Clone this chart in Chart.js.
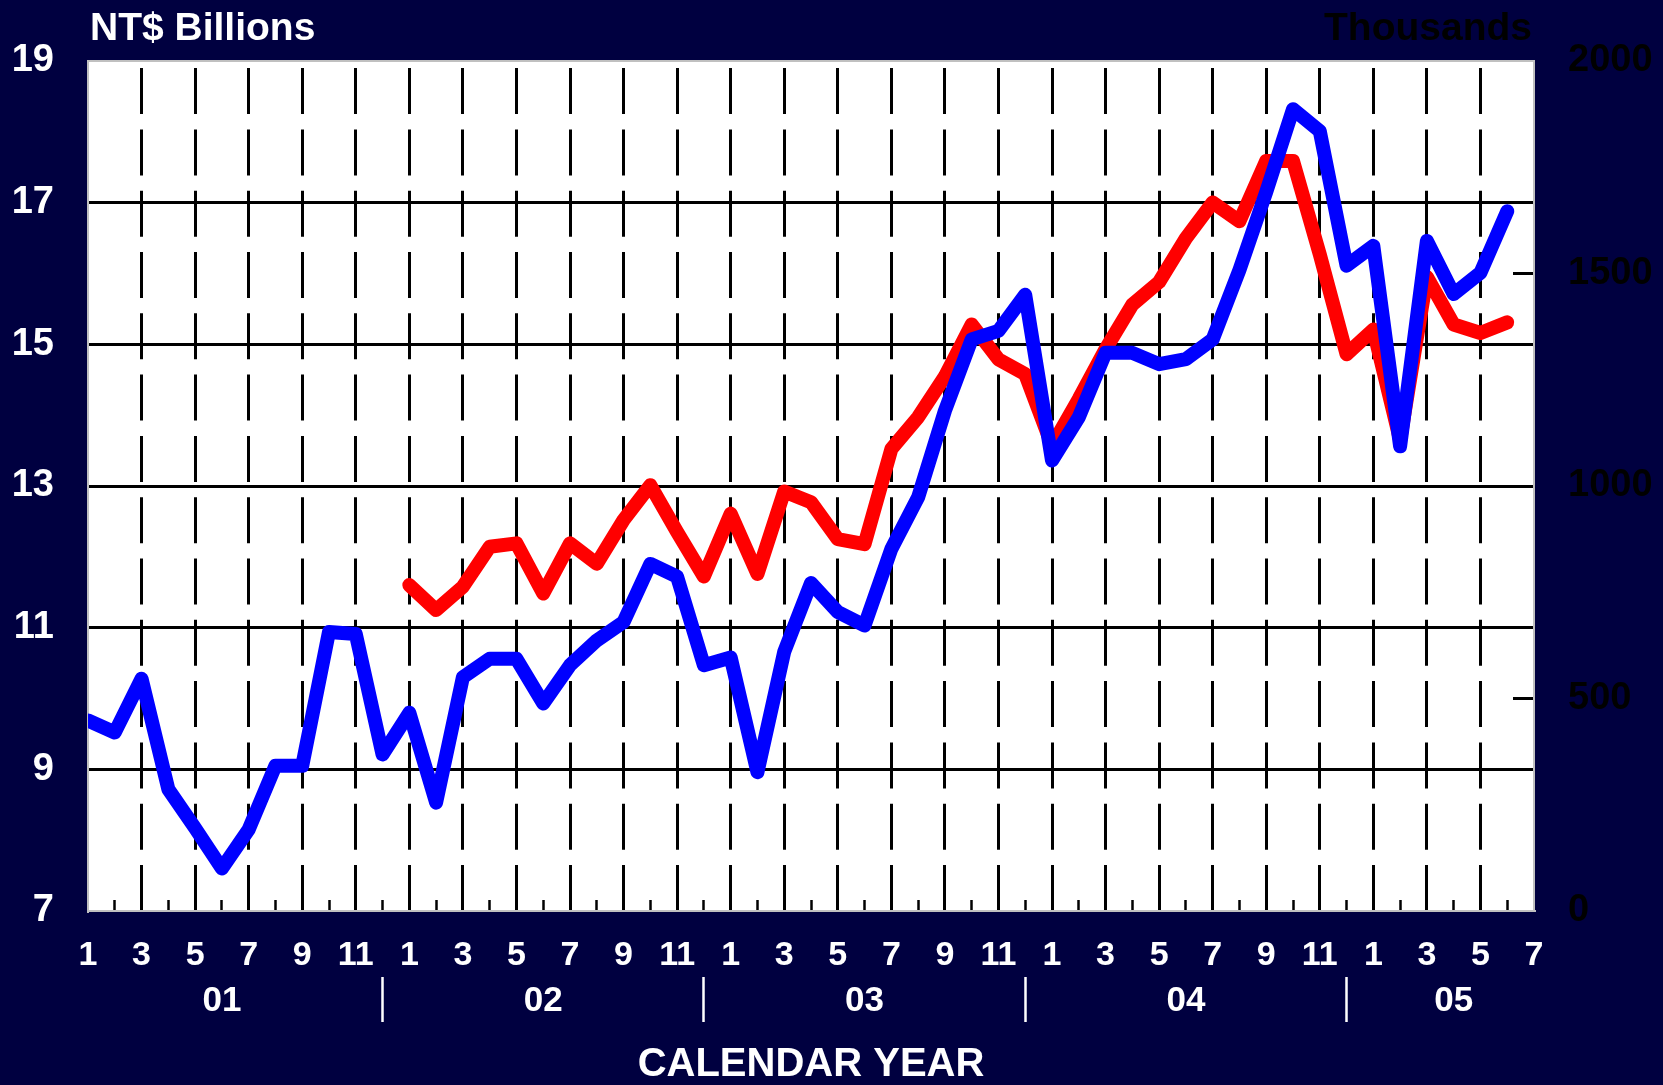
<!DOCTYPE html>
<html lang="en">
<head>
  <meta charset="UTF-8" />
  <title>NT$ Billions vs Thousands</title>
  <script src="https://cdn.jsdelivr.net/npm/chart.js"></script>
  <style>
    html, body {
      margin: 0;
      padding: 0;
      background: #000040;
      overflow: hidden;
    }
    canvas { display: block; }
  </style>
</head>
<body>
  <canvas id="trendChart" width="1663" height="1085"></canvas>

  <script>
  // monthly categories, Jan 2001 .. Jul 2005
  const months = [
    '2001-01','2001-02','2001-03','2001-04','2001-05','2001-06','2001-07','2001-08','2001-09','2001-10','2001-11','2001-12',
    '2002-01','2002-02','2002-03','2002-04','2002-05','2002-06','2002-07','2002-08','2002-09','2002-10','2002-11','2002-12',
    '2003-01','2003-02','2003-03','2003-04','2003-05','2003-06','2003-07','2003-08','2003-09','2003-10','2003-11','2003-12',
    '2004-01','2004-02','2004-03','2004-04','2004-05','2004-06','2004-07','2004-08','2004-09','2004-10','2004-11','2004-12',
    '2005-01','2005-02','2005-03','2005-04','2005-05','2005-06','2005-07'
  ];

  // year row under the month numbers
  const years = ['01', '02', '03', '04', '05'];
  const yearLabelMonth = ['2001-06', '2002-06', '2003-06', '2004-06', '2005-04'];

  // blue line, left axis (NT$ billions)
  const billions = [
    9.69, 9.52, 10.28, 8.72, 8.17, 7.60, 8.15, 9.05, 9.05, 10.94, 10.91, 9.21,
    9.80, 8.53, 10.30, 10.56, 10.56, 9.93, 10.47, 10.82, 11.08, 11.90, 11.72, 10.47,
    10.58, 8.96, 10.66, 11.63, 11.22, 11.03, 12.11, 12.84, 14.06, 15.07, 15.19, 15.70,
    13.36, 13.97, 14.88, 14.88, 14.72, 14.79, 15.07, 16.05, 17.15, 18.32, 18.01, 16.11,
    16.39, 13.56, 16.46, 15.71, 16.01, 16.88
  ];

  // red line, right axis (thousands), starts Jan 2002
  const thousands = [
    null, null, null, null, null, null, null, null, null, null, null, null,
    767, 708, 763, 857, 865, 747, 865, 817, 920, 1002, 892, 787,
    935, 793, 987, 962, 875, 863, 1087, 1162, 1258, 1380, 1298, 1263,
    1095, 1205, 1322, 1427, 1480, 1583, 1667, 1623, 1765, 1765, 1545, 1310,
    1368, 1108, 1492, 1380, 1360, 1385
  ];

  const leftUnit = 'NT$ Billions';
  const rightUnit = 'Thousands';
  const xTitle = 'CALENDAR YEAR';

  const navy = '#000040';
  const monthOf = i => parseInt(months[i].slice(5), 10);
  const isEdge = i => i === 0 || i === months.length - 1;

  Chart.defaults.font.family = "'Liberation Sans', Arial, sans-serif";
  Chart.defaults.font.weight = 'bold';

  // fixed axis sizes so the plot sits where the original one does
  const fixWidth = w => s => { s.width = w; s.paddingTop = 0; s.paddingBottom = 0; };
  const fixHeight = h => s => { s.height = h; s.paddingLeft = 0; s.paddingRight = 0; };

  // navy page, white plot, and the two unit captions
  const frame = {
    id: 'frame',
    beforeDraw(chart) {
      const { ctx, chartArea: a, width, height } = chart;
      ctx.save();
      ctx.fillStyle = navy;
      ctx.fillRect(0, 0, width, height);
      ctx.fillStyle = '#ffffff';
      ctx.fillRect(a.left, a.top, a.right - a.left, a.bottom - a.top);
      ctx.restore();
    },
    afterDraw(chart) {
      const { ctx, chartArea: a } = chart;
      ctx.save();
      ctx.font = "bold 39px 'Liberation Sans', Arial, sans-serif";
      ctx.textBaseline = 'alphabetic';
      ctx.textAlign = 'left';
      ctx.fillStyle = '#ffffff';
      ctx.fillText(leftUnit, a.left + 2, 40);
      ctx.textAlign = 'right';
      ctx.fillStyle = '#000000';
      ctx.fillText(rightUnit, a.right - 2, 40);
      ctx.restore();
    }
  };

  const ctx = document.getElementById('trendChart').getContext('2d');
  new Chart(ctx, {
    type: 'line',
    data: {
      labels: months,
      datasets: [
        {
          label: leftUnit,
          data: billions,
          yAxisID: 'y',
          borderColor: '#0000ff',
          backgroundColor: '#0000ff',
          borderWidth: 14,
          pointRadius: 0,
          tension: 0,
          fill: false,
          borderJoinStyle: 'round',
          borderCapStyle: 'round',
          clip: 0
        },
        {
          label: rightUnit,
          data: thousands,
          yAxisID: 'y2',
          borderColor: '#ff0000',
          backgroundColor: '#ff0000',
          borderWidth: 14,
          pointRadius: 0,
          tension: 0,
          fill: false,
          borderJoinStyle: 'round',
          borderCapStyle: 'round',
          clip: 0
        }
      ]
    },
    options: {
      responsive: false,
      devicePixelRatio: 1,
      animation: false,
      events: [],
      layout: { padding: { top: 61, left: 0, right: 0, bottom: 0 } },
      plugins: {
        legend: { display: false },
        tooltip: { enabled: false }
      },
      scales: {
        x: {
          type: 'category',
          position: 'bottom',
          weight: 0,
          afterFit: fixHeight(66),
          grid: {
            color: c => (!isEdge(c.index) && monthOf(c.index) % 2 === 1) ? '#000000' : 'transparent',
            lineWidth: 3,
            drawTicks: true,
            tickLength: -11,
            tickWidth: 2.5,
            tickColor: c => isEdge(c.index) ? 'transparent' : '#000000'
          },
          border: { display: true, color: '#c0c0c0', width: 2, dash: [46, 15.3], dashOffset: 54.2 },
          ticks: {
            autoSkip: false,
            maxRotation: 0,
            minRotation: 0,
            padding: 35,
            color: '#ffffff',
            font: { size: 34, weight: 'bold' },
            callback: (v, i) => monthOf(i) % 2 === 1 ? String(monthOf(i)) : ''
          }
        },
        x2: {
          type: 'category',
          position: 'bottom',
          weight: 1,
          afterFit: fixHeight(108),
          grid: {
            drawOnChartArea: false,
            drawTicks: true,
            tickLength: 45,
            tickWidth: 2.5,
            tickColor: c => monthOf(c.index) === 12 ? '#ffffff' : 'transparent'
          },
          border: { display: false },
          ticks: {
            autoSkip: false,
            maxRotation: 0,
            minRotation: 0,
            padding: -42,
            color: '#ffffff',
            font: { size: 35, weight: 'bold' },
            callback: (v, i) => {
              const k = yearLabelMonth.indexOf(months[i]);
              return k < 0 ? '' : years[k];
            }
          },
          title: {
            display: true,
            text: xTitle,
            color: '#ffffff',
            font: { size: 40, weight: 'bold', lineHeight: 1 },
            padding: { top: 0, bottom: 0 }
          }
        },
        y: {
          position: 'left',
          min: 7,
          max: 19,
          afterFit: fixWidth(88),
          grid: {
            color: c => c.tick.value === 19 ? '#c0c0c0' : (c.tick.value === 7 ? 'transparent' : '#000000'),
            lineWidth: c => c.tick.value === 19 ? 2 : 3,
            drawTicks: false
          },
          border: { display: true, color: '#c0c0c0', width: 2 },
          ticks: {
            stepSize: 2,
            padding: 34,
            color: '#ffffff',
            font: { size: 38, weight: 'bold' }
          }
        },
        y2: {
          position: 'right',
          min: 0,
          max: 2000,
          afterFit: fixWidth(129),
          grid: {
            drawOnChartArea: false,
            drawTicks: true,
            tickLength: -21,
            tickWidth: 3,
            tickColor: c => (c.tick.value === 0 || c.tick.value === 2000) ? 'transparent' : '#000000'
          },
          border: { display: true, color: '#c0c0c0', width: 2 },
          ticks: {
            stepSize: 500,
            padding: 55,
            color: '#000000',
            font: { size: 38, weight: 'bold' },
            callback: v => String(v)
          }
        }
      }
    },
    plugins: [frame]
  });
  </script>
</body>
</html>
